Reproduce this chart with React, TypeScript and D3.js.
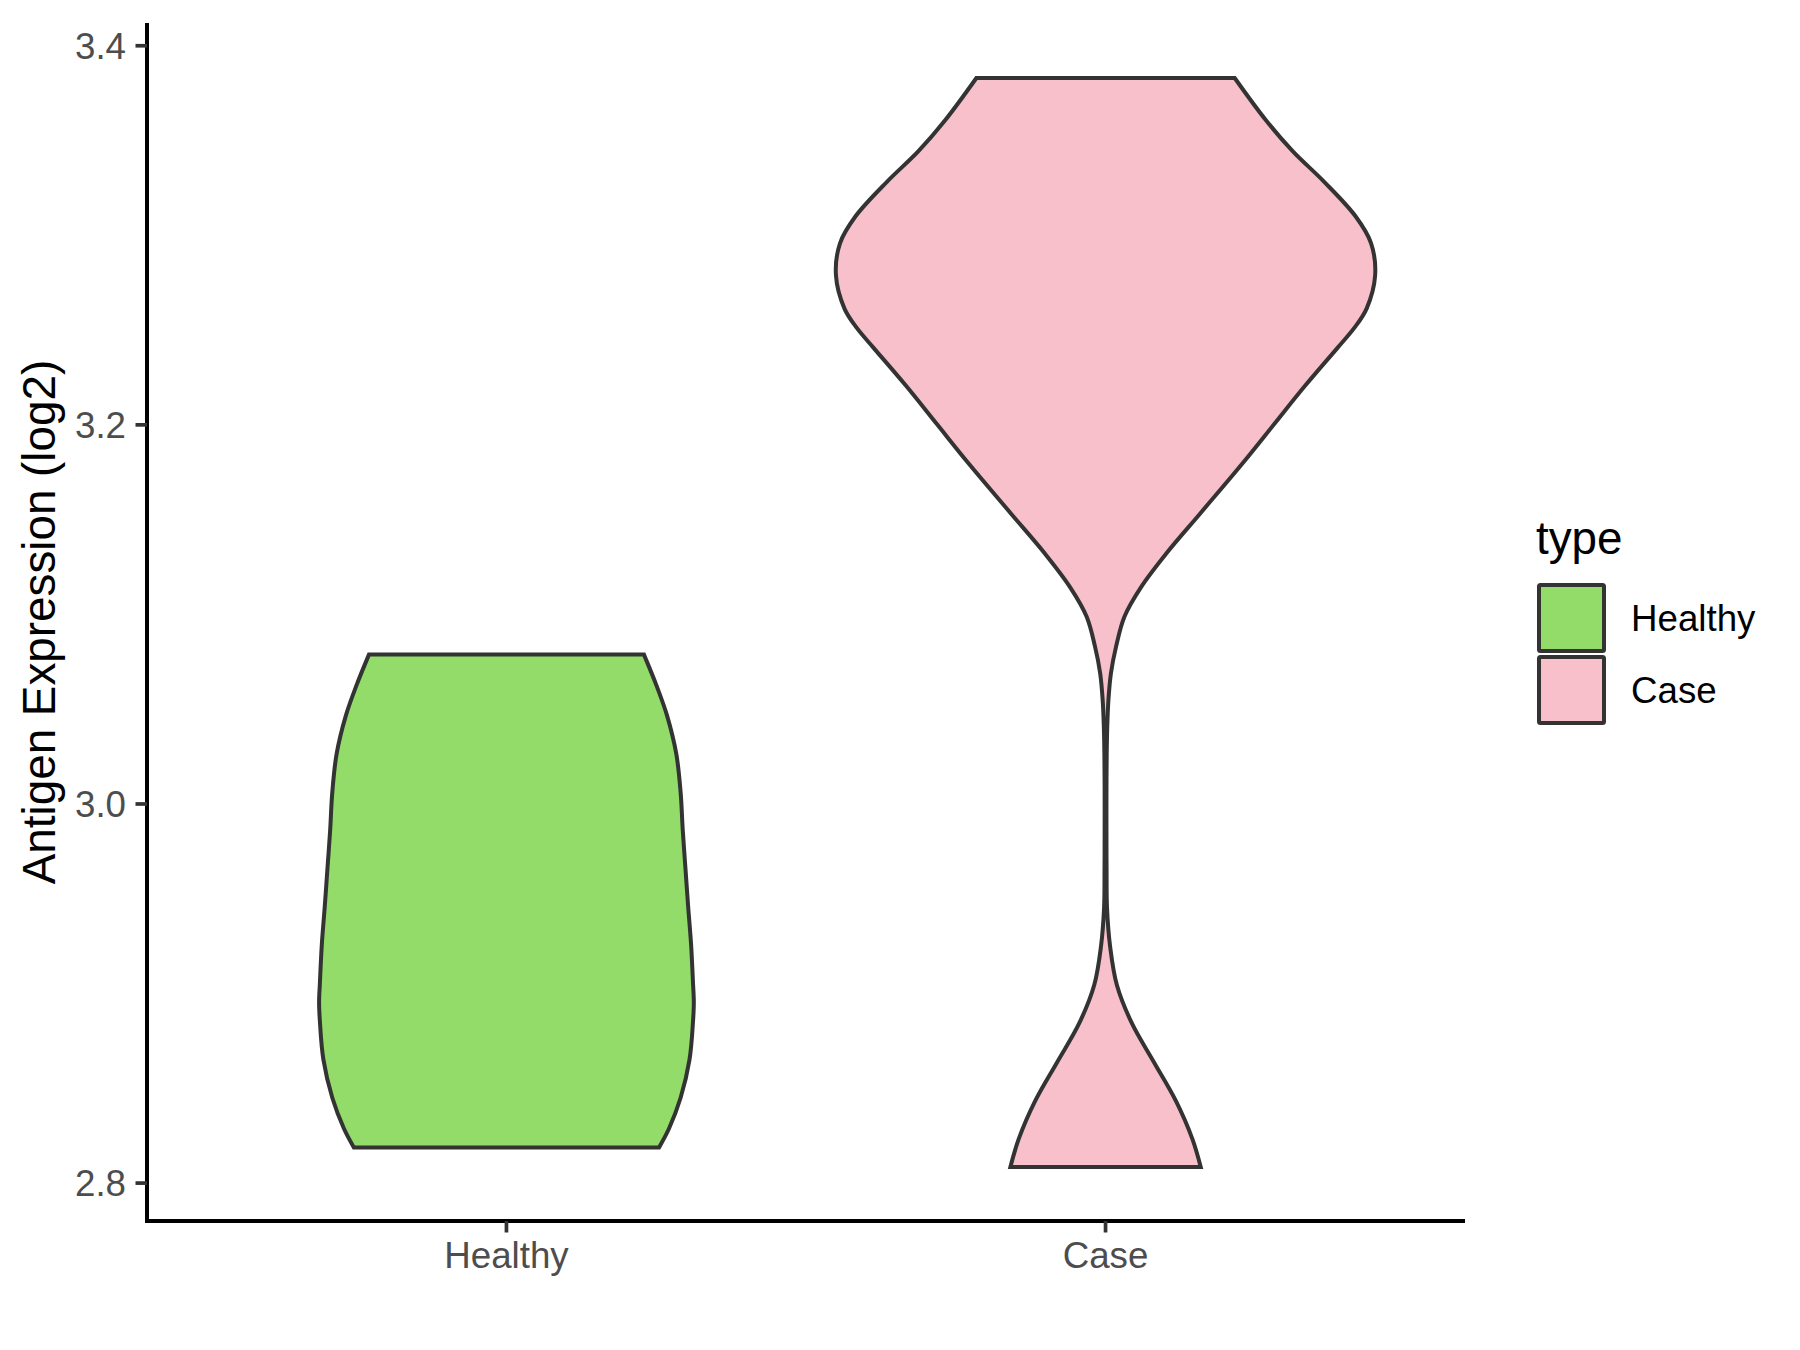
import React from "react";
import * as d3 from "d3";

const categories = ["Healthy", "Case"];
const fillColors = ["#93DC6A", "#F7C0CB"];

const healthyValues = [3.0788, 3.0627, 3.0465, 3.0264, 3.0062, 2.9861, 2.9659, 2.9458, 2.9256, 2.9055, 2.8953, 2.8853, 2.8651, 2.845, 2.8288, 2.8188];
const healthyDensity = [0.51, 0.556, 0.596, 0.63, 0.646, 0.654, 0.664, 0.674, 0.685, 0.692, 0.695, 0.692, 0.679, 0.646, 0.603, 0.566];

const caseValues = [3.383, 3.3607, 3.3444, 3.3282, 3.3099, 3.2958, 3.2788, 3.2612, 3.251, 3.2409, 3.2206, 3.2003, 3.18, 3.1534, 3.1323, 3.1147, 3.0988, 3.083, 3.069, 3.0549, 3.04, 3.0263, 3.0061, 2.9857, 2.9654, 2.9451, 2.9248, 2.9045, 2.8842, 2.8639, 2.8436, 2.8233, 2.8085];
const caseDensity = [0.479, 0.595, 0.694, 0.811, 0.928, 0.985, 1.0, 0.968, 0.922, 0.862, 0.74, 0.625, 0.51, 0.352, 0.226, 0.133, 0.07, 0.039, 0.02, 0.0107, 0.0062, 0.0043, 0.0034, 0.0034, 0.0038, 0.0055, 0.017, 0.042, 0.098, 0.179, 0.26, 0.322, 0.353];

const yTicks = [2.8, 3.0, 3.2, 3.4];
const yDomain = [2.78, 3.412];
const yTitle = "Antigen Expression (log2)";
const legendTitle = "type";

const FONT = "'Liberation Sans', Arial, Helvetica, sans-serif";

export default function App() {
  const W = 1800, H = 1350;
  const left = 147, right = 1465, top = 23, bottom = 1221;

  const x = d3.scalePoint<string>().domain(categories).range([left, right]).padding(0.6);
  const y = d3.scaleLinear().domain(yDomain).range([bottom, top]);
  const w = d3.scaleLinear().domain([0, 1]).range([0, 0.45 * x.step()]);

  const series = [
    { name: categories[0], vals: healthyValues, dens: healthyDensity, color: fillColors[0] },
    { name: categories[1], vals: caseValues, dens: caseDensity, color: fillColors[1] },
  ];

  const tickFmt = d3.format(".1f");

  return (
    <svg width={W} height={H} style={{ position: "absolute", left: 0, top: 0, display: "block", background: "#fff" }} fontFamily={FONT}>
      <rect x={0} y={0} width={W} height={H} fill="#fff" />
      {series.map((s) => {
        const cx = x(s.name) as number;
        const pts = s.vals.map((v, i) => [v, s.dens[i]] as [number, number]);
        const area = d3
          .area<[number, number]>()
          .y((d) => y(d[0]))
          .x0((d) => cx - w(d[1]))
          .x1((d) => cx + w(d[1]))
          .curve(d3.curveCatmullRom.alpha(0.5));
        return (
          <path key={s.name} d={area(pts) || ""} fill={s.color} stroke="#333333" strokeWidth={4} strokeLinejoin="miter" />
        );
      })}

      {/* axes */}
      <line x1={left} x2={left} y1={top} y2={bottom + 2} stroke="#000" strokeWidth={4} />
      <line x1={left - 2} x2={right} y1={bottom} y2={bottom} stroke="#000" strokeWidth={4} />

      {yTicks.map((t) => (
        <g key={t}>
          <line x1={left - 11.5} x2={left} y1={y(t)} y2={y(t)} stroke="#333333" strokeWidth={3.7} />
          <text x={126} y={y(t) + 13} textAnchor="end" fontSize={36.7} fill="#4D4D4D">
            {tickFmt(t)}
          </text>
        </g>
      ))}

      {categories.map((c) => (
        <g key={c}>
          <line x1={x(c)} x2={x(c)} y1={bottom} y2={bottom + 11.5} stroke="#333333" strokeWidth={3.7} />
          <text x={x(c)} y={1268} textAnchor="middle" fontSize={36.7} fill="#4D4D4D">
            {c}
          </text>
        </g>
      ))}

      <text
        transform={`translate(55, ${(top + bottom) / 2}) rotate(-90)`}
        textAnchor="middle"
        fontSize={45.8}
        fill="#000"
      >
        {yTitle}
      </text>

      {/* legend */}
      <text x={1536} y={554} fontSize={45.8} fill="#000">
        {legendTitle}
      </text>
      {categories.map((c, i) => (
        <g key={c}>
          <rect x={1539} y={585 + i * 72} width={65} height={66} fill={fillColors[i]} stroke="#333333" strokeWidth={4} rx={1.5} />
          <text x={1631} y={631 + i * 72} fontSize={36.7} fill="#000">
            {c}
          </text>
        </g>
      ))}
    </svg>
  );
}
